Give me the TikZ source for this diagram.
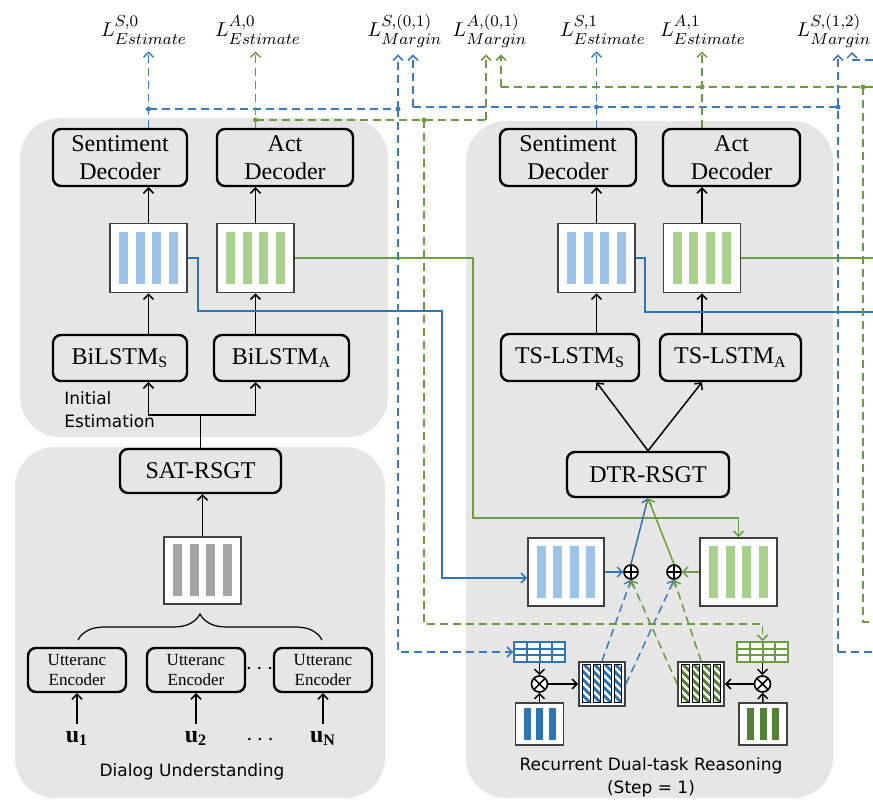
\documentclass[tikz,border=0pt]{standalone}
\usepackage[no-math]{fontspec}
\setmainfont{Liberation Serif}
\newfontfamily\comicf{DejaVu Sans}
\usetikzlibrary{arrows.meta,decorations.pathreplacing,calc}
\DeclareMathSizes{10}{10}{8}{6}
\definecolor{panel}{HTML}{E6E6E6}
\definecolor{bluel}{HTML}{2E75B6}
\definecolor{greenl}{HTML}{6A9E40}
\definecolor{blued}{HTML}{3A7BC0}
\definecolor{greend}{HTML}{6C9A3F}
\definecolor{lblue}{HTML}{9DC3E6}
\definecolor{lgreen}{HTML}{A9D18E}
\definecolor{dblue}{HTML}{2E75B6}
\definecolor{dgreen}{HTML}{548235}
\definecolor{gbar}{HTML}{A5A5A5}
\tikzset{
  panelbg/.style={fill=panel, rounded corners=20pt},
  blk/.style={draw=black, line width=1.2pt, rounded corners=4pt, fill=panel, inner sep=0pt, align=center, font=\fontsize{12}{14}\selectfont},
  ublk/.style={draw=black, line width=1.2pt, rounded corners=4pt, fill=panel, inner sep=0pt, align=center, font=\fontsize{8.5}{10}\selectfont, minimum width=49pt, minimum height=22pt},
  featn/.style={draw=black!75, line width=0.9pt, fill=white, inner sep=0pt},
  arr/.style={-{Straight Barb[length=2.5pt,width=5pt]}, line width=0.75pt},
  bline/.style={draw=bluel, line width=1pt},
  gline/.style={draw=greenl, line width=1pt},
  bdash/.style={draw=blued, dash pattern=on 4pt off 2.5pt, line width=0.7pt},
  gdash/.style={draw=greend, dash pattern=on 4pt off 2.5pt, line width=0.7pt},
  lab/.style={font=\fontsize{10}{12}\selectfont, anchor=base},
  comic/.style={font=\comicf\fontsize{8.5}{11.5}\selectfont},
  opnode/.style={circle, draw=black, line width=0.8pt, fill=white, inner sep=0pt, minimum size=7pt,
    path picture={\draw[line width=0.8pt] (path picture bounding box.north) -- (path picture bounding box.south) (path picture bounding box.west) -- (path picture bounding box.east);}},
  oxnode/.style={circle, draw=black, line width=0.8pt, fill=white, inner sep=0pt, minimum size=8pt,
    path picture={\draw[line width=0.8pt] (path picture bounding box.north west) -- (path picture bounding box.south east) (path picture bounding box.south west) -- (path picture bounding box.north east);}},
}
% feature box: name, cx, cy, w(pt), h(pt), colour, bar height (px)
\newcommand{\featbox}[7]{%
  \node[featn, minimum width=#4pt, minimum height=#5pt] (#1) at (#2,#3) {};
  \foreach \k in {-1.5,-0.5,0.5,1.5}{\fill[#6] ({#2+\k*16.5-4.5},{#3-#7/2}) rectangle ++(9,#7);}
}
% dark 3-bar box: name, cx, cy, colour
\newcommand{\darkbox}[4]{%
  \node[featn, minimum width=24pt, minimum height=21pt] (#1) at (#2,#3) {};
  \foreach \k in {-1,0,1}{\fill[#4] ({#2+\k*12.5-3.5},{#3-16}) rectangle ++(7,32);}
}
% hatched box: name, cx, cy, colour
\newcommand{\hatchbox}[4]{%
  \node[featn, minimum width=23pt, minimum height=22pt] (#1) at (#2,#3) {};
  \foreach \k in {-1.5,-0.5,0.5,1.5}{%
    \pgfmathsetmacro{\bx}{#2+\k*10.5-3.75}
    \begin{scope}
      \clip (\bx,#3-19) rectangle ++(7.5,38);
      \foreach \t in {-46,-38,...,14}{\draw[#4, line width=1.5pt] (\bx+\t,#3-19) -- ++(46,46);}
    \end{scope}
    \draw[line width=0.5pt] (\bx,#3-19) rectangle ++(7.5,38);
  }
}
% grid: name, cx, cy, colour
\newcommand{\gridbox}[4]{%
  \node[draw=#4, line width=1pt, fill=white, inner sep=0pt, minimum width=25.5pt, minimum height=10pt] (#1) at (#2,#3) {};
  \foreach \k in {-1,0,1}{\draw[#4, line width=1pt] ({#2+\k*12.75},{#3-10}) -- ++(0,20);}
  \foreach \k in {-1,1}{\draw[#4, line width=1pt] ({#2-25.5},{#3+\k*3.33}) -- ++(51,0);}
}
\begin{document}
\begin{tikzpicture}[x=0.5pt,y=-0.5pt]
\useasboundingbox (0,0) rectangle (873,801);
% panels
\fill[panelbg] (20,118) rectangle (388,437);
\fill[panelbg] (15,447) rectangle (385,798);
\fill[panelbg] (466,121) rectangle (833,798);

% ---------- left top panel ----------
\node[blk, minimum width=67pt, minimum height=28.5pt] (sdec0) at (120,157.5) {Sentiment\\Decoder};
\node[blk, minimum width=68pt, minimum height=28.5pt] (adec0) at (285,157.5) {Act\\Decoder};
\featbox{fS0}{148.5}{258}{38.5}{34.5}{lblue}{52}
\featbox{fA0}{255.5}{258}{38.5}{34.5}{lgreen}{52}
\node[blk, minimum width=67pt, minimum height=23pt] (bS) at (120,358) {BiLSTM\textsubscript{S}};
\node[blk, minimum width=67.5pt, minimum height=23pt] (bA) at (281.5,358) {BiLSTM\textsubscript{A}};
\node[comic, align=left, anchor=north west, inner sep=0pt] (initlab) at (64,391) {Initial\\Estimation};

% ---------- left bottom panel ----------
\node[blk, minimum width=80.5pt, minimum height=22pt] (sat) at (200.5,471) {SAT-RSGT};
\featbox{fG}{202.5}{570.5}{38.5}{33.5}{gbar}{52}
\node[ublk] (ue1) at (77,670) {Utteranc\\Encoder};
\node[ublk] (ue2) at (196,670) {Utteranc\\Encoder};
\node[ublk] (ue3) at (323,670) {Utteranc\\Encoder};
\node[inner sep=0pt, font=\fontsize{12}{14}\selectfont] (dotsA) at (259.5,669) {$\cdots$};
\node[anchor=base, font=\fontsize{12}{14}\selectfont\bfseries] (u1) at (77,742) {u\textsubscript{1}};
\node[anchor=base, font=\fontsize{12}{14}\selectfont\bfseries] (u2) at (196,742) {u\textsubscript{2}};
\node[anchor=base, font=\fontsize{12}{14}\selectfont\bfseries] (uN) at (323,742) {u\textsubscript{N}};
\node[inner sep=0pt, font=\fontsize{12}{14}\selectfont] (dotsB) at (260,740) {$\cdots$};
\node[comic] (dulab) at (192,772) {Dialog Understanding};
\draw[decorate, decoration={brace, amplitude=13pt}, line width=0.6pt] (78,640) -- (322,640);

% ---------- right panel ----------
\node[blk, minimum width=68pt, minimum height=28.5pt] (sdec1) at (568,157.5) {Sentiment\\Decoder};
\node[blk, minimum width=68.5pt, minimum height=28.5pt] (adec1) at (731.5,157.5) {Act\\Decoder};
\featbox{fS1}{596.5}{258}{38.5}{34.5}{lblue}{52}
\featbox{fA1}{702}{258}{38.5}{34.5}{lgreen}{52}
\node[blk, minimum width=69pt, minimum height=23.5pt] (tS) at (570,357.5) {TS-LSTM\textsubscript{S}};
\node[blk, minimum width=70.5pt, minimum height=23.5pt] (tA) at (730.5,357.5) {TS-LSTM\textsubscript{A}};
\node[blk, minimum width=81pt, minimum height=22.5pt] (dtr) at (648,474.5) {DTR-RSGT};
\featbox{fS2}{566}{572}{38}{34}{lblue}{52}
\featbox{fA2}{738.5}{572}{38.5}{34}{lgreen}{52}
\node[opnode] (op1) at (631,572) {};
\node[opnode] (op2) at (674,572) {};
\gridbox{gS}{539.5}{652}{bluel}
\gridbox{gA}{762.5}{652}{greenl}
\node[oxnode] (ox1) at (539.5,684) {};
\node[oxnode] (ox2) at (762.5,684) {};
\darkbox{dS}{539.5}{724}{dblue}
\darkbox{dA}{763}{724}{dgreen}
\hatchbox{hS}{602}{684}{dblue}
\hatchbox{hA}{701}{684}{dgreen}
\node[comic, align=center] (rdlab) at (651,777) {Recurrent Dual-task Reasoning\\(Step = 1)};

% ---------- top labels ----------
\node[lab] (LS0) at (144,37) {$L^{S,0}_{Estimate}$};
\node[lab] (LA0) at (258,37) {$L^{A,0}_{Estimate}$};
\node[lab] (LSm01) at (405,37) {$L^{S,(0,1)}_{Margin}$};
\node[lab] (LAm01) at (490,37) {$L^{A,(0,1)}_{Margin}$};
\node[lab] (LS1) at (603,37) {$L^{S,1}_{Estimate}$};
\node[lab] (LA1) at (703,37) {$L^{A,1}_{Estimate}$};
\node[lab] (LSm12) at (834,37) {$L^{S,(1,2)}_{Margin}$};

% ---------- black arrows ----------
\draw[arr] (fS0.north) -- (sdec0.south -| fS0);
\draw[arr] (fA0.north) -- (adec0.south -| fA0);
\draw[arr] (bS.north -| fS0) -- (fS0.south);
\draw[arr] (bA.north -| fA0) -- (fA0.south);
\coordinate (jsat) at (200.5,415);
\draw[line width=0.8pt] (sat.north) -- (jsat);
\draw[arr] (jsat) -| (bS.south -| fS0);
\draw[arr] (jsat) -| (bA.south -| fA0);
\draw[arr] (fG.north) -- (fG.north |- sat.south);
\draw[arr] (u1.north) -- (u1.north |- ue1.south);
\draw[arr] (u2.north) -- (u2.north |- ue2.south);
\draw[arr] (uN.north) -- (uN.north |- ue3.south);
\draw[arr] (fS1.north) -- (sdec1.south -| fS1);
\draw[arr] (fA1.north) -- (adec1.south -| fA1);
\draw[arr] (tS.north -| fS1) -- (fS1.south);
\draw[arr] (tA.north -| fA1) -- (fA1.south);
\draw[arr] (dtr.north) -- (tS.south -| fS1);
\draw[arr] (dtr.north) -- (tA.south -| fA1);
\draw[arr] (gS.south) -- (ox1.north);
\draw[arr] (dS.north) -- (ox1.south);
\draw[arr] (ox1.east) -- (hS.west);
\draw[arr] (gA.south) -- (ox2.north);
\draw[arr] (dA.north) -- (ox2.south);
\draw[arr] (ox2.west) -- (hA.east);

% ---------- solid coloured connectors ----------
\coordinate (bt) at (442,578);
\draw[bline, arr] (fS0.east) -- (198,258) -- (198,311) -- (442,311) -- (bt) -- (bt -| fS2.west);
\draw[gline, arr] (fA0.east) -- (473,258) -- (473,518) -| (fA2.north);
\coordinate (outB) at (873,312);
\coordinate (outG) at (873,258);
\draw[bline] (fS1.east) -- (645,258) -- (645,312) -- (outB);
\draw[gline] (fA1.east) -- (outG);
\draw[bline, arr] (fS2.east) -- (op1.west);
\draw[gline, arr] (fA2.west) -- (op2.east);
\draw[bline, arr] (op1.north) -- (dtr.south);
\draw[gline, arr] (op2.north) -- (dtr.south);

% ---------- dashed connectors to the adders ----------
\draw[bdash, arr] (hS.north) -- (op1.south);
\draw[bdash, arr] (hS.east) -- (op2.south);
\draw[gdash, arr] (hA.north) -- (op2.south);
\draw[gdash, arr] (hA.west) -- (op1.south);

% ---------- blue dashed loss lines ----------
\coordinate (jb1) at (148.5,109);
\coordinate (jb2) at (398,109);
\coordinate (jb3) at (413,107);
\coordinate (jb4) at (596.5,107);
\coordinate (jb5) at (838,107);
\coordinate (eb1) at (838,652);
\coordinate (ob1) at (873,652);
\coordinate (ob2) at (873,60);
\draw[bdash, arr] (sdec0.north -| fS0) -- (fS0 |- LS0.south);
\draw[bdash] (jb1) -- (jb2);
\draw[bdash, arr] (jb2) -- (jb2 |- LSm01.south);
\draw[bdash, arr] (jb2) |- (gS.west);
\draw[bdash, arr] (jb3) -- (jb3 |- LSm01.south);
\draw[bdash] (jb3) -- (jb5);
\draw[bdash, arr] (sdec1.north -| fS1) -- (fS1 |- LS1.south);
\draw[bdash, arr] (eb1) -- (eb1 |- LSm12.south);
\draw[bdash] (eb1) -- (ob1);
\draw[bdash, arr] (ob2) -| (852,52);
\foreach \p in {jb1,jb2,jb4,jb5} \fill[blued] (\p) circle (2.5);

% ---------- green dashed loss lines ----------
\coordinate (jg1) at (255.5,120);
\coordinate (jg2) at (424,120);
\coordinate (jg3) at (486,120);
\coordinate (jg4) at (501,87);
\coordinate (jg5) at (702,87);
\coordinate (jg6) at (863,87);
\coordinate (og1) at (873,87);
\coordinate (og2) at (873,622);
\draw[gdash, arr] (adec0.north -| fA0) -- (fA0 |- LA0.south);
\draw[gdash] (jg1) -- (jg3);
\draw[gdash, arr] (jg3) -- (jg3 |- LAm01.south);
\draw[gdash, arr] (jg2) -- (424,624) -| (gA.north);
\draw[gdash, arr] (jg4) -- (jg4 |- LAm01.south);
\draw[gdash] (jg4) -- (og1);
\draw[gdash, arr] (adec1.north -| fA1) -- (fA1 |- LA1.south);
\draw[gdash] (jg6) |- (og2);
\foreach \p in {jg1,jg2,jg5,jg6} \fill[greend] (\p) circle (2.5);
\end{tikzpicture}
\end{document}
